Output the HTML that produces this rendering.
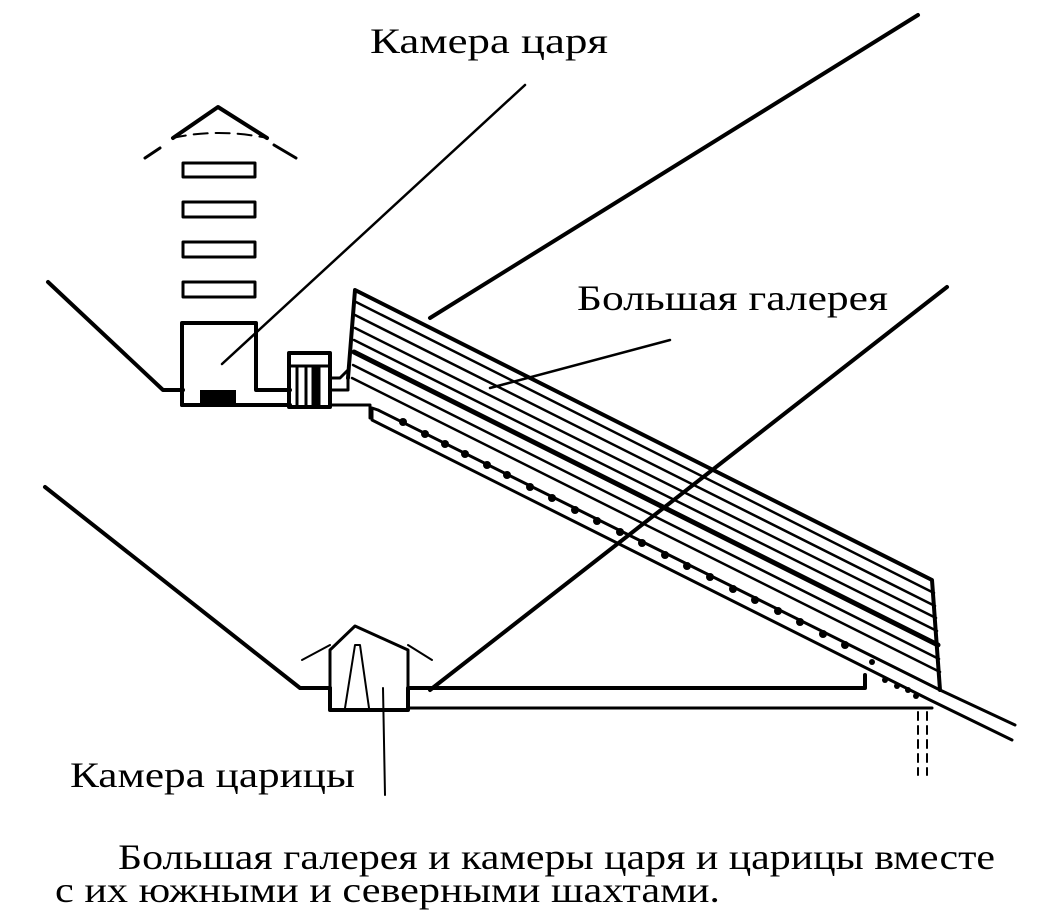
<!DOCTYPE html>
<html><head><meta charset="utf-8"><style>html,body{margin:0;padding:0;background:#fff}svg{display:block}</style></head>
<body>
<svg width="1053" height="923" viewBox="0 0 1053 923" xmlns="http://www.w3.org/2000/svg" font-family="'Liberation Serif', serif" fill="none" stroke="#000" stroke-linecap="round" stroke-linejoin="round">
<line x1="430" y1="318" x2="918" y2="15" stroke-width="4"/>
<line x1="430" y1="690" x2="947" y2="287" stroke-width="4"/>
<polyline points="48,282 163,390 183,390" stroke-width="4"/>
<polyline points="45,487 300,688 330,688" stroke-width="4"/>
<g stroke-width="3">
<rect x="183" y="163" width="72" height="14"/>
<rect x="183" y="202" width="72" height="15"/>
<rect x="183" y="242" width="72" height="15"/>
<rect x="183" y="282" width="72" height="15"/>
</g>
<polyline points="173,138 218,107 267,138" stroke-width="4"/>
<path d="M172,138 Q218,128 267,138" stroke-width="2" stroke-dasharray="14,8"/>
<path d="M145,158 L160,148 M274,145 L296,158" stroke-width="3"/>
<polyline points="182,405 182,323 256,323 256,390 290,390" stroke-width="4"/>
<line x1="182" y1="405" x2="290" y2="405" stroke-width="4"/>
<rect x="200" y="390" width="36" height="14" fill="#000" stroke="none"/>
<rect x="289" y="353" width="41" height="54" stroke-width="4"/>
<line x1="289" y1="366" x2="330" y2="366" stroke-width="3"/>
<line x1="297" y1="366" x2="297" y2="407" stroke-width="3"/>
<line x1="306" y1="366" x2="306" y2="407" stroke-width="3"/>
<rect x="312" y="366" width="8" height="40" fill="#000"/>
<polyline points="330,390 348,390 348,370 340,378 330,378" stroke-width="3"/>
<polyline points="330,405 370,405 370,418" stroke-width="3"/>
<polyline points="348,378 355,290 932,580 940,690" stroke-width="4"/>
<g stroke-width="2.5">
<line x1="356" y1="302" x2="934" y2="593"/>
<line x1="355" y1="315" x2="935" y2="606"/>
<line x1="355" y1="328" x2="936" y2="618"/>
<line x1="354" y1="340" x2="937" y2="631"/>
<line x1="353" y1="365" x2="939" y2="659"/>
<line x1="352" y1="378" x2="940" y2="672"/>
</g>
<line x1="354" y1="352" x2="938" y2="645" stroke-width="5"/>
<polyline points="372,408 378,410 940,690 1015,725" stroke-width="3"/>
<polyline points="372,410 372,420 930,700 1012,740" stroke-width="3"/>
<g fill="#000" stroke="none">
<circle cx="403" cy="422" r="4"/><circle cx="425" cy="434" r="4"/><circle cx="445" cy="444" r="4"/>
<circle cx="465" cy="454" r="4"/><circle cx="487" cy="465" r="4"/><circle cx="507" cy="475" r="4"/>
<circle cx="530" cy="487" r="4"/><circle cx="552" cy="498" r="4"/><circle cx="575" cy="510" r="4"/>
<circle cx="597" cy="521" r="4"/><circle cx="620" cy="532" r="4"/><circle cx="642" cy="543" r="4"/>
<circle cx="665" cy="555" r="4"/><circle cx="687" cy="566" r="4"/><circle cx="710" cy="577" r="4"/>
<circle cx="733" cy="589" r="4"/><circle cx="755" cy="600" r="4"/><circle cx="778" cy="611" r="4"/>
<circle cx="800" cy="622" r="4"/><circle cx="823" cy="634" r="4"/><circle cx="845" cy="645" r="4"/>
<circle cx="872" cy="662" r="3"/><circle cx="885" cy="680" r="3"/><circle cx="897" cy="686" r="3"/><circle cx="908" cy="690" r="3"/><circle cx="916" cy="696" r="3"/>
</g>
<polyline points="330,688 330,710 408,710 408,688 430,688 865,688 865,675" stroke-width="4"/>
<line x1="408" y1="708" x2="932" y2="708" stroke-width="3"/>
<polyline points="330,710 330,650 355,626 408,650 408,688" stroke-width="3"/>
<path d="M302,660 L330,645 M408,645 L432,660" stroke-width="2"/>
<polyline points="345,708 355,645 360,645 369,708" stroke-width="2"/>
<line x1="383" y1="688" x2="385" y2="795" stroke-width="2"/>
<path d="M918,712 L918,775 M927,712 L927,775" stroke-width="2" stroke-dasharray="8,6"/>
<line x1="525" y1="85" x2="222" y2="364" stroke-width="2.5"/>
<line x1="670" y1="340" x2="490" y2="388" stroke-width="2.5"/>
<g fill="#000" stroke="none" font-size="36">
<text x="370" y="53" textLength="238" lengthAdjust="spacingAndGlyphs">Камера царя</text>
<text x="577" y="310" textLength="311" lengthAdjust="spacingAndGlyphs">Большая галерея</text>
<text x="70" y="787" textLength="285" lengthAdjust="spacingAndGlyphs">Камера царицы</text>
<text x="118" y="869" textLength="877" lengthAdjust="spacingAndGlyphs">Большая галерея и камеры царя и царицы вместе</text>
<text x="55" y="902" textLength="665" lengthAdjust="spacingAndGlyphs">с их южными и северными шахтами.</text>
</g>
</svg>
</body></html>
